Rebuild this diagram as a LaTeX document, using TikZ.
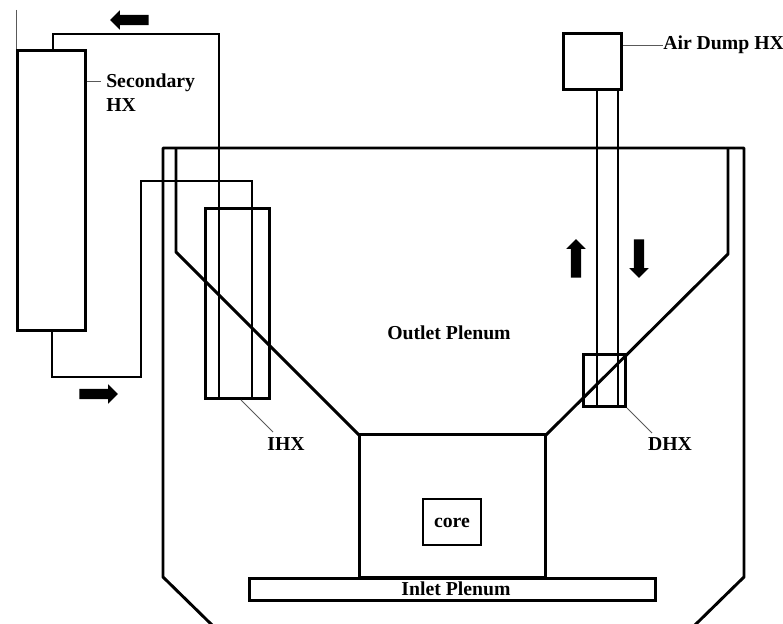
\documentclass[tikz,border=0pt]{standalone}
\usepackage{fontspec}
\setmainfont{Liberation Serif}
\usetikzlibrary{calc, shapes.arrows}

\begin{document}
\begin{tikzpicture}[x=0.75pt, y=-0.75pt,
    wall/.style={draw, line width=2.2pt},
    pipe/.style={draw, line width=1.3pt},
    leader/.style={draw, gray!70!black, line width=0.6pt},
    box/.style={draw, line width=2.25pt, inner sep=0pt},
    txt/.style={font=\fontsize{14.8}{18}\selectfont\bfseries, inner sep=0pt},
    flow/.style={single arrow, fill=black, draw=none, inner xsep=0pt, inner ysep=3.7pt, minimum width=14.5pt,
          minimum height=29pt, single arrow head extend=3.4pt, single arrow head indent=0pt}]
    \useasboundingbox (0,0) rectangle (783,624);
    % Recipiente
    \draw[wall, line join=round] (212,625) -- (163,577) -- (163,148) -- (744,148) -- (744,577) -- (695,625);
    \draw[wall, line join=round] (176,148) -- (176,252) -- (359,435);
    \draw[wall, line join=round] (546,435) -- (728,254) -- (728,148);
    % Caixas
    \node[box, minimum width=51pt, minimum height=210pt] (sechx) at (51,191) {};
    \node[box, minimum width=48pt, minimum height=143.2pt] (ihx) at (237,303.5) {};
    \node[box, minimum width=44.2pt, minimum height=42pt] (airhx) at (592.5,62) {};
    \node[box, minimum width=31.5pt, minimum height=39pt] (dhx) at (604,381) {};
    \node[box, minimum width=140.2pt, minimum height=106.5pt] (plenumbox) at (452.5,506) {};
    \node[box, minimum width=304.5pt, minimum height=15.8pt] (inlet) at (452,589.5) {};
    \node[txt, draw, line width=1.4pt, text height=9pt, minimum width=43.5pt, minimum height=34.5pt] (core) at (452,522) {core};
    % Textos
    \node[txt, align=left, anchor=north west] (seclabel) at (106,74) {Secondary\\HX};
    \node[txt, anchor=base west] (airlabel) at (663,50) {Air Dump HX};
    \node[txt] (ihxlabel) at (286,444) {IHX};
    \node[txt] (dhxlabel) at (670,444) {DHX};
    \node[txt] (outlet) at (449,333) {Outlet Plenum};
    \node[txt] (inletlabel) at (456,589) {Inlet Plenum};
    % Pontos das tubulacoes
    \coordinate (sectop) at (53,51);
    \coordinate (secbot) at (52,331);
    \coordinate (ihxa) at (219,399);
    \coordinate (ihxb) at (252,399);
    \coordinate (aira) at (597,90);
    \coordinate (airb) at (618,90);
    \coordinate (dhxa) at (597,407);
    \coordinate (dhxb) at (618,407);
    \coordinate (secstem) at (16,10);
    \coordinate (secmark) at (101,81);
    \coordinate (ihxmark) at (241,400);
    \coordinate (ihxend) at (273,432);
    \coordinate (dhxmark) at (627,408);
    \coordinate (dhxend) at (652,433);
    % Tubulacoes
    \draw[pipe] (sectop) -- ++(0,-17) -| (ihxa);
    \draw[pipe] (secbot) -- ++(0,46) -- ++(89,0) -- ++(0,-196) -| (ihxb);
    \draw[pipe] (aira) -- (dhxa);
    \draw[pipe] (airb) -- (dhxb);
    % Linhas de chamada
    \draw[leader] (secstem) -- (secstem |- sechx.north);
    \draw[leader] (sechx.east |- secmark) -- (secmark);
    \draw[leader] (airhx.east |- airlabel.west) -- (airlabel.west);
    \draw[leader] (ihxmark) -- (ihxend);
    \draw[leader] (dhxmark) -- (dhxend);
    % Setas de escoamento
    \node[flow, rotate=180] (flowtop) at (132,20) {};
    \node[flow] (flowbot) at (96,394) {};
    \node[flow, rotate=90] (flowup) at (576,261) {};
    \node[flow, rotate=-90] (flowdown) at (639,256) {};
\end{tikzpicture}
\end{document}
